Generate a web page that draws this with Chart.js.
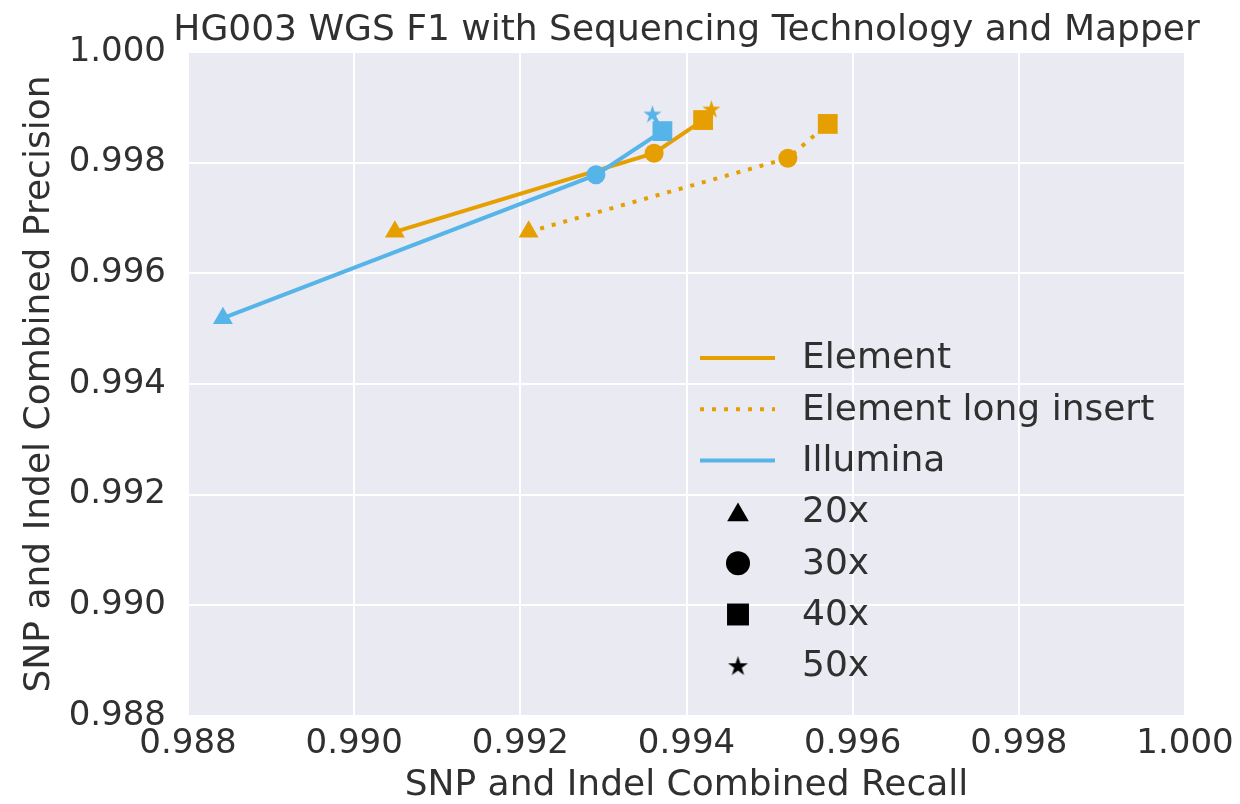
<!DOCTYPE html>
<html>
<head>
<meta charset="utf-8">
<script src="https://cdn.jsdelivr.net/npm/chart.js@4.4.1/dist/chart.umd.min.js"></script>
<style>
  html, body { margin: 0; padding: 0; background: #fff; }
  #wrap { width: 1240px; height: 804px; }
</style>
</head>
<body>
<div id="wrap"><canvas id="myChart"></canvas></div>
<script>
// values (recall = x, precision = y), one entry per coverage
var coverages = ["20x", "30x", "40x", "50x"];
var elementRecall = [0.99049, 0.99361, 0.99420, 0.99430];
var elementPrecision = [0.99675, 0.99817, 0.99877, 0.99897];
var longInsertRecall = [0.99210, 0.99522, 0.99570];
var longInsertPrecision = [0.99675, 0.99808, 0.99870];
var illuminaRecall = [0.98842, 0.99291, 0.99371, 0.99359];
var illuminaPrecision = [0.99519, 0.99778, 0.99857, 0.99888];
var axisTicks = [0.988, 0.99, 0.992, 0.994, 0.996, 0.998, 1.0];

var ORANGE = "#E69F00";
var BLUE = "#56B4E9";
var TEXT = "#303030";
var FONT = "'DejaVu Sans', sans-serif";
var TITLE = "HG003 WGS F1 with Sequencing Technology and Mapper";

function makeStar(color, r) {
  var c = document.createElement("canvas");
  var s = Math.ceil(r * 2 + 2);
  c.width = s;
  c.height = s;
  var g = c.getContext("2d");
  g.fillStyle = color;
  g.beginPath();
  for (var i = 0; i < 10; i++) {
    var rad = i % 2 === 0 ? r : r * 0.382;
    var a = -Math.PI / 2 + (i * Math.PI) / 5;
    g.lineTo(s / 2 + rad * Math.cos(a), s / 2 + rad * Math.sin(a) + r * 0.08);
  }
  g.closePath();
  g.fill();
  return c;
}

function toPoints(xs, ys) {
  return xs.map(function (x, i) {
    return { x: x, y: ys[i] };
  });
}

function markerStyles(color, starR) {
  return ["triangle", "circle", "rect", makeStar(color, starR)];
}
var markerRadius = [11.5, 9.5, 14, 9.5];

Chart.defaults.font.family = FONT;
Chart.defaults.color = TEXT;

var plotBackground = {
  id: "plotBackground",
  beforeDraw: function (chart) {
    var a = chart.chartArea;
    var ctx = chart.ctx;
    ctx.save();
    ctx.fillStyle = "#EAEAF2";
    ctx.fillRect(a.left, a.top, a.right - a.left, a.bottom - a.top);
    ctx.restore();
  },
};

// title centred over the axes, like matplotlib does it
var axesTitle = {
  id: "axesTitle",
  afterDraw: function (chart) {
    var a = chart.chartArea;
    var ctx = chart.ctx;
    ctx.save();
    ctx.font = "36px " + FONT;
    ctx.fillStyle = TEXT;
    ctx.textAlign = "center";
    ctx.textBaseline = "alphabetic";
    ctx.fillText(TITLE, (a.left + a.right) / 2, 40);
    ctx.restore();
  },
};

// matplotlib-like legend: three line handles then four black marker handles
var legendBox = {
  id: "legendBox",
  afterDraw: function (chart) {
    var ctx = chart.ctx;
    var x0 = 700, x1 = 775, xm = 738, xt = 802, y0 = 358, dy = 51.3;
    var rows = [
      { label: "Element", color: ORANGE, dash: [] },
      { label: "Element long insert", color: ORANGE, dash: [4, 8] },
      { label: "Illumina", color: BLUE, dash: [] },
    ];
    ctx.save();
    ctx.font = "36px " + FONT;
    ctx.textBaseline = "middle";
    ctx.fillStyle = TEXT;
    rows.forEach(function (r, i) {
      var y = y0 + i * dy;
      ctx.save();
      ctx.strokeStyle = r.color;
      ctx.lineWidth = 4;
      ctx.setLineDash(r.dash);
      ctx.beginPath();
      ctx.moveTo(x0, y);
      ctx.lineTo(x1, y);
      ctx.stroke();
      ctx.restore();
      ctx.fillText(r.label, xt, y + 1);
    });
    var styles = markerStyles("#000", 10.5);
    var legendRadius = [12.5, 12, 15.5, 10.5];
    var legendShift = [3, 0, 0, 0];
    coverages.forEach(function (c, i) {
      var y = y0 + (i + 3) * dy;
      ctx.save();
      ctx.fillStyle = "#000";
      ctx.strokeStyle = "#000";
      Chart.helpers.drawPoint(ctx, { pointStyle: styles[i], radius: legendRadius[i], borderWidth: 0, rotation: 0 }, xm, y + legendShift[i]);
      ctx.restore();
      ctx.fillText(c, xt, y + 1);
    });
    ctx.restore();
  },
};

function series(label, xs, ys, color, dash, order) {
  return {
    label: label,
    data: toPoints(xs, ys),
    showLine: true,
    borderColor: color,
    backgroundColor: color,
    borderWidth: 4,
    borderDash: dash,
    pointStyle: markerStyles(color, 9.5).slice(0, xs.length),
    pointRadius: markerRadius.slice(0, xs.length),
    pointBorderWidth: 0,
    pointBackgroundColor: color,
    order: order,
  };
}

var ctx = document.getElementById("myChart");
var myChart = new Chart(ctx, {
  type: "scatter",
  data: {
    datasets: [
      series("Element", elementRecall, elementPrecision, ORANGE, [], 3),
      series("Element long insert", longInsertRecall, longInsertPrecision, ORANGE, [4, 8], 2),
      series("Illumina", illuminaRecall, illuminaPrecision, BLUE, [], 1),
    ],
  },
  options: {
    responsive: true,
    maintainAspectRatio: false,
    animation: false,
    layout: { padding: { left: 16, right: 0, top: 52, bottom: 0 } },
    plugins: {
      legend: { display: false },
      tooltip: { enabled: false },
      title: { display: false },
    },
    scales: {
      x: {
        type: "linear",
        min: 0.988,
        max: 1.0,
        afterBuildTicks: function (axis) {
          axis.ticks = axisTicks.map(function (v) { return { value: v }; });
        },
        afterFit: function (scale) {
          scale.height = 88;
          scale.paddingRight = 55;
        },
        ticks: {
          font: { size: 34 },
          color: TEXT,
          padding: 8,
          callback: function (v) { return v.toFixed(3); },
        },
        grid: { color: "#ffffff", lineWidth: 2, drawTicks: false },
        border: { display: false },
        title: {
          display: true,
          text: "SNP and Indel Combined Recall",
          font: { size: 36, lineHeight: 1.0 },
          color: TEXT,
          padding: { top: 0, bottom: 0 },
        },
      },
      y: {
        type: "linear",
        min: 0.988,
        max: 1.0,
        afterBuildTicks: function (axis) {
          axis.ticks = axisTicks.map(function (v) { return { value: v }; });
        },
        afterFit: function (scale) {
          scale.width = 172;
        },
        ticks: {
          font: { size: 34 },
          color: TEXT,
          padding: 22,
          callback: function (v) { return v.toFixed(3); },
        },
        grid: { color: "#ffffff", lineWidth: 2, drawTicks: false },
        border: { display: false },
        title: {
          display: true,
          text: "SNP and Indel Combined Precision",
          font: { size: 36, lineHeight: 1.0 },
          color: TEXT,
          padding: { top: 6, bottom: 0 },
        },
      },
    },
  },
  plugins: [plotBackground, axesTitle, legendBox],
});
</script>
</body>
</html>
